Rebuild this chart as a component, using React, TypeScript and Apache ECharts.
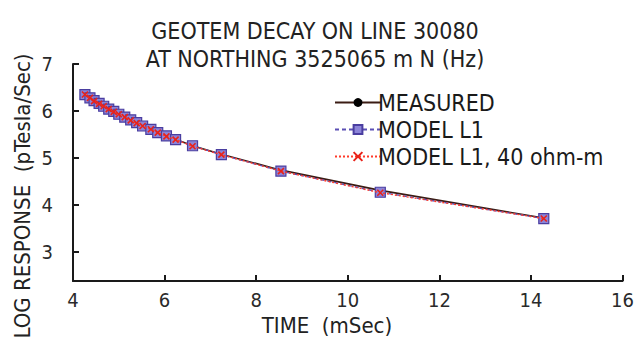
import React, { useEffect, useRef } from "react";
import * as echarts from "echarts";

const times = [4.26, 4.37, 4.46, 4.57, 4.67, 4.78, 4.89, 5.0, 5.13, 5.26, 5.39, 5.52, 5.7, 5.85, 6.04, 6.24, 6.61, 7.24, 8.54, 10.71, 14.28];
const measured = [6.36, 6.29, 6.22, 6.16, 6.11, 6.05, 5.99, 5.94, 5.88, 5.81, 5.75, 5.69, 5.62, 5.55, 5.47, 5.4, 5.26, 5.08, 4.74, 4.31, 3.72];
const modelL1 = [6.35, 6.28, 6.22, 6.16, 6.1, 6.04, 5.99, 5.93, 5.87, 5.81, 5.75, 5.68, 5.61, 5.54, 5.47, 5.39, 5.26, 5.07, 4.72, 4.27, 3.71];
const model40 = [6.35, 6.28, 6.21, 6.15, 6.1, 6.04, 5.98, 5.93, 5.87, 5.8, 5.74, 5.68, 5.61, 5.54, 5.46, 5.39, 5.25, 5.07, 4.72, 4.26, 3.71];
const yTicks = [3, 4, 5, 6, 7];
const seriesNames = ["MEASURED", "MODEL L1", "MODEL L1, 40 ohm-m"];
const titleLines = ["GEOTEM DECAY ON LINE 30080", "AT NORTHING 3525065 m N (Hz)"];
const xTitle = "TIME  (mSec)";
const yTitle = "LOG RESPONSE  (pTesla/Sec)";

const FONT = "'Liberation Sans Narrow', 'DejaVu Sans Condensed', 'Arial Narrow', sans-serif";
const X_PATH = "path://M0,0 L10,10 M10,0 L0,10";

function pairs(ys: number[]) {
  return times.map((t, i) => [t, ys[i]]);
}

export default function App() {
  const ref = useRef<HTMLDivElement>(null);
  useEffect(() => {
    if (!ref.current) return;
    const chart = echarts.init(ref.current, null, { renderer: "svg" });
    chart.setOption({
      animation: false,
      backgroundColor: "#ffffff",
      textStyle: { fontFamily: FONT },
      grid: { left: 73, right: 12, top: 64, bottom: 60, containLabel: false },
      xAxis: {
        type: "value",
        min: 4,
        max: 16,
        interval: 2,
        axisLine: { show: true, lineStyle: { color: "#1a1a1a", width: 2 } },
        axisTick: { show: true, inside: true, length: 6, lineStyle: { color: "#1a1a1a", width: 2 } },
        axisLabel: { color: "#2a2a2a", fontSize: 20, fontFamily: FONT, margin: 9 },
        splitLine: { show: false },
      },
      yAxis: {
        type: "value",
        min: 2.38,
        max: 7,
        axisLine: { show: true, lineStyle: { color: "#1a1a1a", width: 2 } },
        axisTick: { show: true, inside: true, length: 6, customValues: yTicks, lineStyle: { color: "#1a1a1a", width: 2 } },
        axisLabel: { color: "#2a2a2a", fontSize: 20, fontFamily: FONT, margin: 20, customValues: yTicks },
        splitLine: { show: false },
      },
      legend: {
        orient: "vertical",
        left: 329,
        top: 86,
        itemWidth: 46,
        itemHeight: 11,
        itemGap: 4,
        textStyle: { fontSize: 23, fontFamily: FONT, color: "#1a1a1a", lineHeight: 22, padding: [0, 0, 0, -8] },
        data: seriesNames,
      },
      graphic: [
        {
          type: "text",
          x: 315,
          y: 17,
          style: {
            text: titleLines.join("\n"),
            font: `23px ${FONT}`,
            fill: "#222",
            textAlign: "center",
            lineHeight: 28,
          },
        },
        {
          type: "text",
          x: 327,
          y: 325,
          style: { text: xTitle, font: `22px ${FONT}`, fill: "#222", textAlign: "center", textVerticalAlign: "middle" },
        },
        {
          type: "text",
          x: 22,
          y: 196,
          rotation: Math.PI / 2,
          style: { text: yTitle, font: `22px ${FONT}`, fill: "#222", textAlign: "center", textVerticalAlign: "middle" },
        },
      ],
      series: [
        {
          name: seriesNames[0],
          type: "line",
          data: pairs(measured),
          symbol: "circle",
          symbolSize: 5,
          showSymbol: true,
          lineStyle: { color: "#3b1c14", width: 1.6 },
          itemStyle: { color: "#000000", borderWidth: 0 },
          z: 2,
        },
        {
          name: seriesNames[1],
          type: "line",
          data: pairs(modelL1),
          symbol: "rect",
          symbolSize: 10,
          lineStyle: { color: "#5b4fb4", width: 1.4, type: [4, 3] },
          itemStyle: { color: "#8c84d8", borderColor: "#4a3ea0", borderWidth: 1.2 },
          z: 3,
        },
        {
          name: seriesNames[2],
          type: "line",
          data: pairs(model40),
          symbol: X_PATH,
          symbolSize: 6,
          lineStyle: { color: "#ff3b2a", width: 1.4, type: [2, 2] },
          itemStyle: { color: "none", borderColor: "#e8231a", borderWidth: 1.6 },
          z: 4,
        },
      ],
    });
    return () => chart.dispose();
  }, []);
  return <div ref={ref} style={{ position: "fixed", left: 0, top: 0, width: 637, height: 341 }} />;
}
